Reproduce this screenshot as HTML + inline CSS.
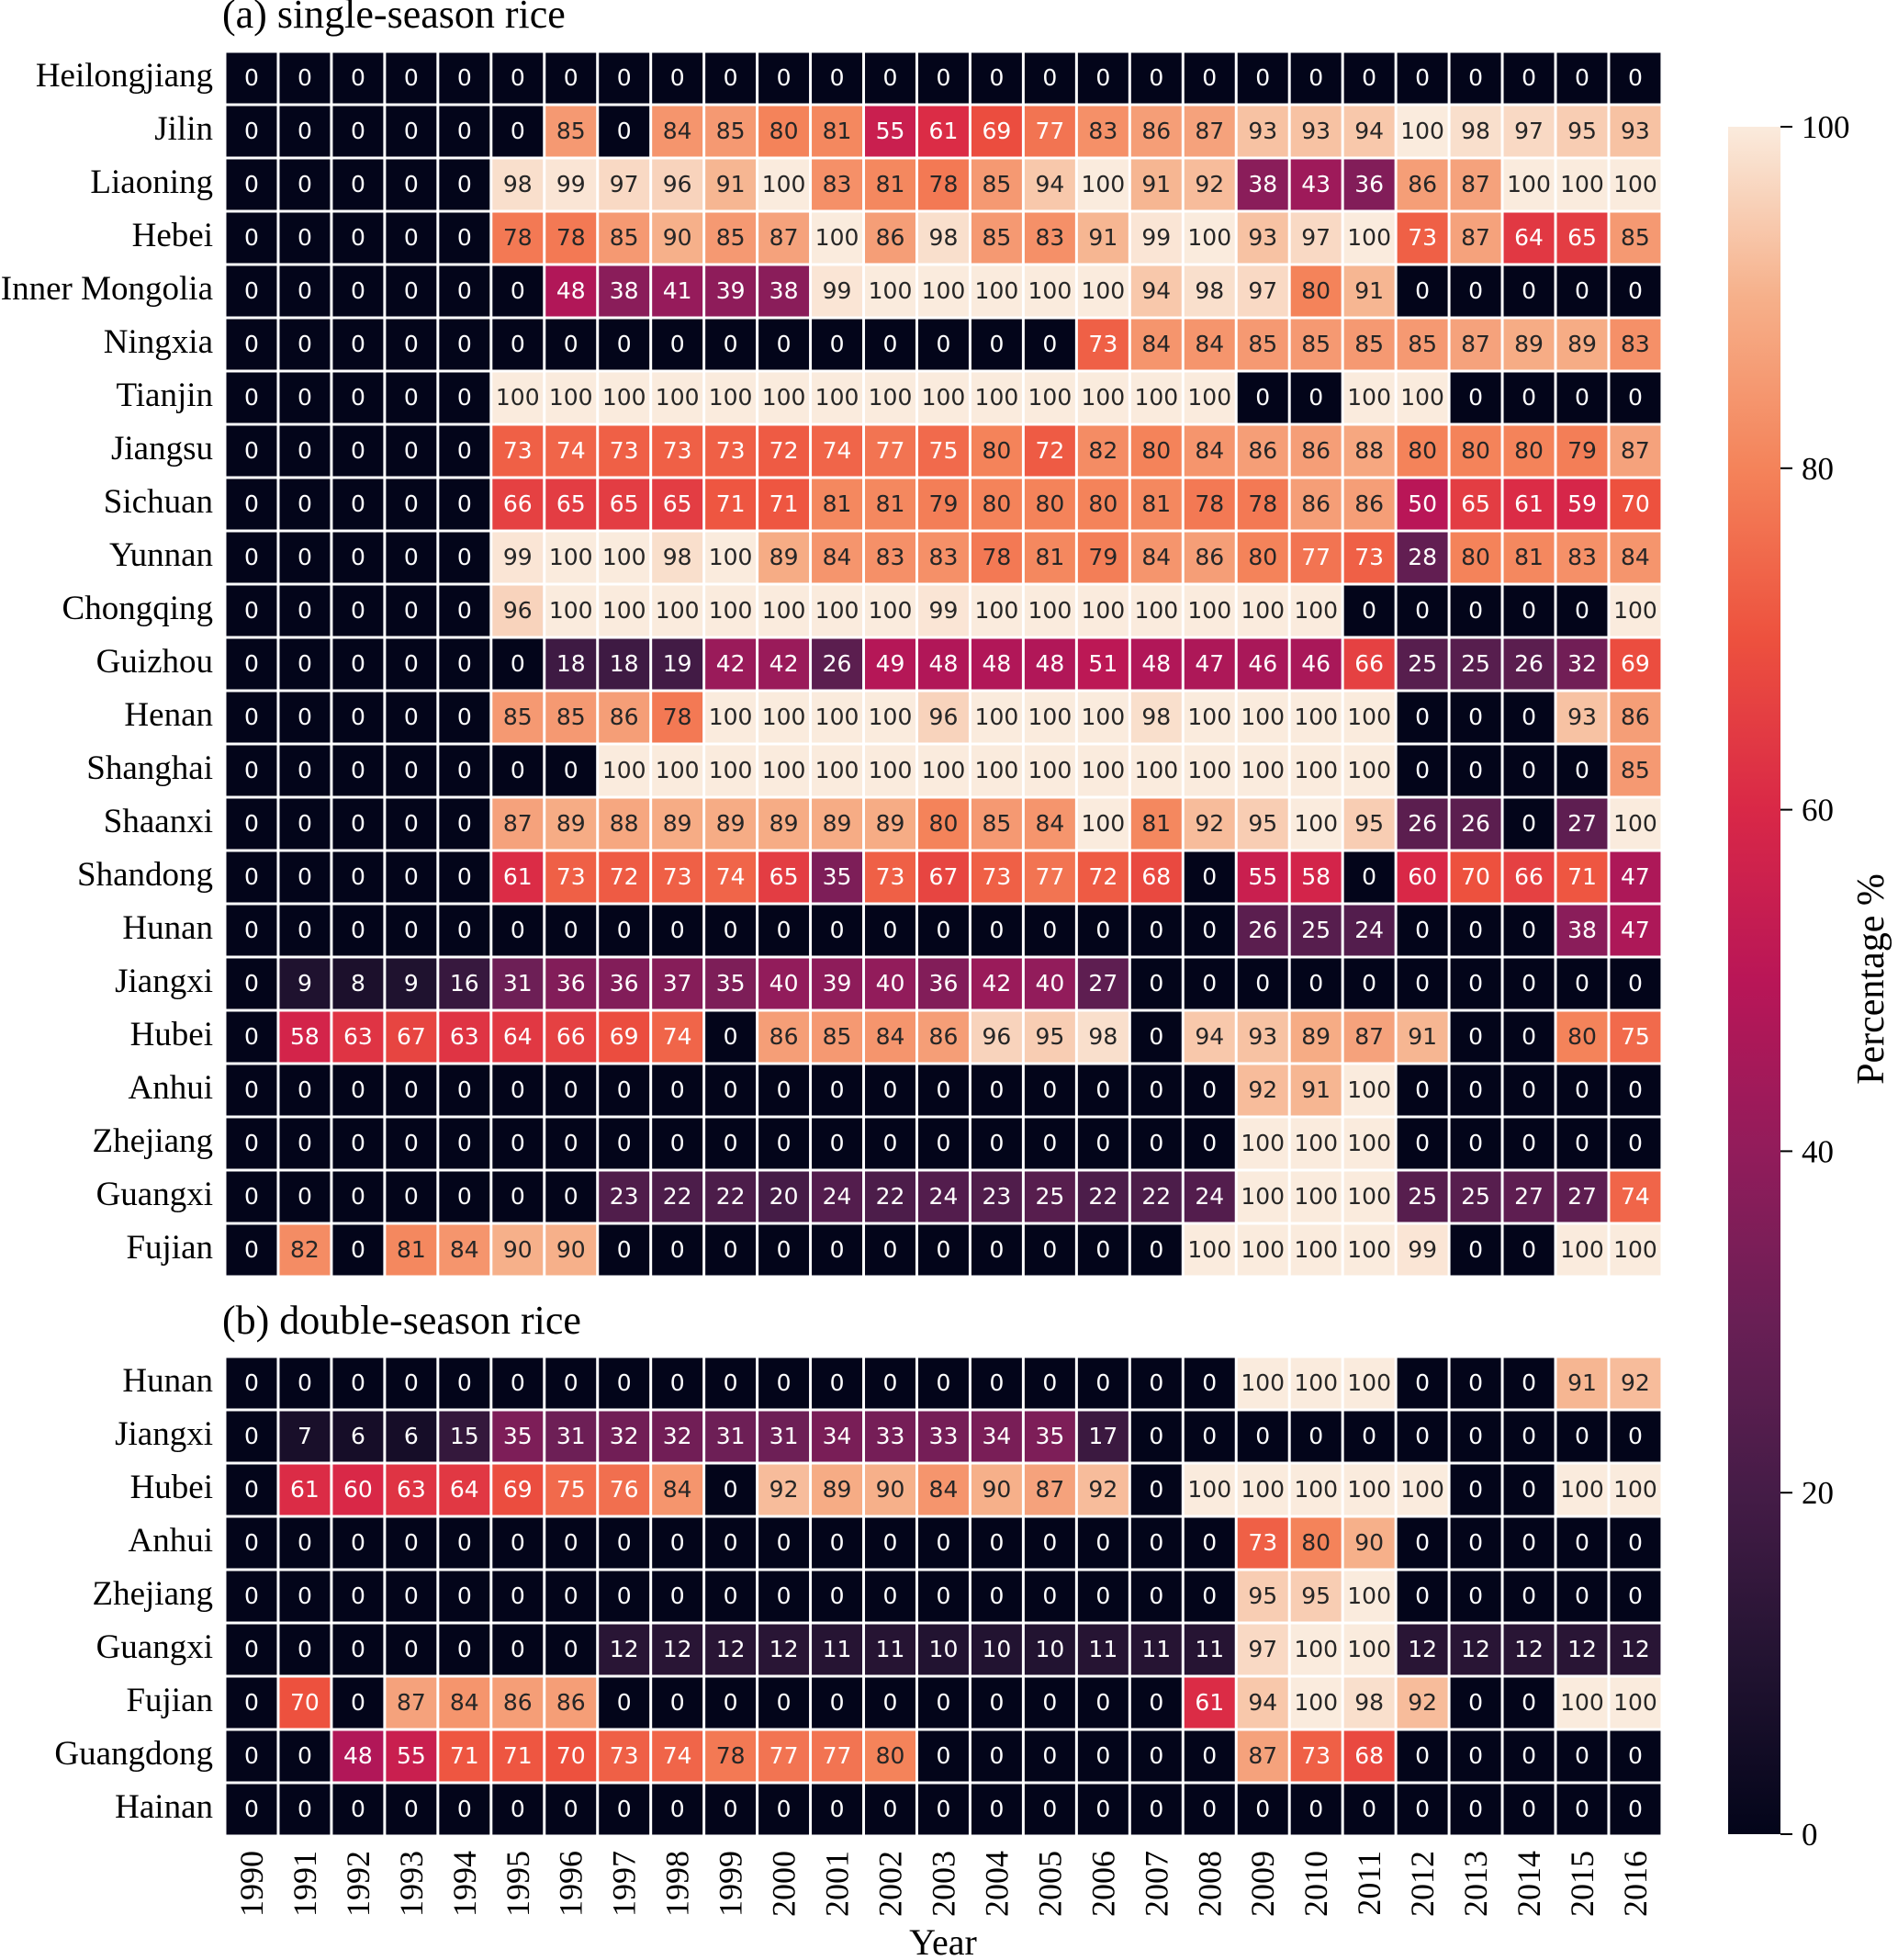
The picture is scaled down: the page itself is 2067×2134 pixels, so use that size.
<!DOCTYPE html>
<html><head><meta charset="utf-8">
<style>
html,body{margin:0;padding:0;background:#fff;}
svg{display:block;}
</style></head>
<body>
<svg id="chart" width="2067" height="2134" viewBox="0 0 2067 2134" xmlns="http://www.w3.org/2000/svg">
<defs>
<linearGradient id="cbgrad" x1="0" y1="1" x2="0" y2="0">
<stop offset="0" stop-color="#03051A"/><stop offset="0.1" stop-color="#221331"/><stop offset="0.2" stop-color="#451C47"/>
<stop offset="0.3" stop-color="#691F55"/><stop offset="0.4" stop-color="#921C5B"/><stop offset="0.5" stop-color="#B91657"/>
<stop offset="0.6" stop-color="#D92847"/><stop offset="0.7" stop-color="#ED513E"/><stop offset="0.8" stop-color="#F4835A"/>
<stop offset="0.9" stop-color="#F6B08A"/><stop offset="1" stop-color="#FAEBDD"/>
</linearGradient>
</defs>
<g id="panels"></g>
<text x="242" y="30" font-family="Liberation Serif, serif" font-size="44">(a) single-season rice</text>
<text x="242" y="1452" font-family="Liberation Serif, serif" font-size="44">(b) double-season rice</text>
<text x="1027" y="2128" text-anchor="middle" font-family="Liberation Serif, serif" font-size="40">Year</text>
<rect x="1882" y="138" width="57" height="1859" fill="url(#cbgrad)"/>
<g id="cbticks"></g>
<text transform="translate(2051,1066) rotate(-90)" text-anchor="middle" font-family="Liberation Serif, serif" font-size="42">Percentage %</text>
</svg>
<script>
const years = [1990,1991,1992,1993,1994,1995,1996,1997,1998,1999,2000,2001,2002,2003,2004,2005,2006,2007,2008,2009,2010,2011,2012,2013,2014,2015,2016];
const provincesA = ["Heilongjiang","Jilin","Liaoning","Hebei","Inner Mongolia","Ningxia","Tianjin","Jiangsu","Sichuan","Yunnan","Chongqing","Guizhou","Henan","Shanghai","Shaanxi","Shandong","Hunan","Jiangxi","Hubei","Anhui","Zhejiang","Guangxi","Fujian"];
const valuesA = [
[0,0,0,0,0,0,0,0,0,0,0,0,0,0,0,0,0,0,0,0,0,0,0,0,0,0,0],
[0,0,0,0,0,0,85,0,84,85,80,81,55,61,69,77,83,86,87,93,93,94,100,98,97,95,93],
[0,0,0,0,0,98,99,97,96,91,100,83,81,78,85,94,100,91,92,38,43,36,86,87,100,100,100],
[0,0,0,0,0,78,78,85,90,85,87,100,86,98,85,83,91,99,100,93,97,100,73,87,64,65,85],
[0,0,0,0,0,0,48,38,41,39,38,99,100,100,100,100,100,94,98,97,80,91,0,0,0,0,0],
[0,0,0,0,0,0,0,0,0,0,0,0,0,0,0,0,73,84,84,85,85,85,85,87,89,89,83],
[0,0,0,0,0,100,100,100,100,100,100,100,100,100,100,100,100,100,100,0,0,100,100,0,0,0,0],
[0,0,0,0,0,73,74,73,73,73,72,74,77,75,80,72,82,80,84,86,86,88,80,80,80,79,87],
[0,0,0,0,0,66,65,65,65,71,71,81,81,79,80,80,80,81,78,78,86,86,50,65,61,59,70],
[0,0,0,0,0,99,100,100,98,100,89,84,83,83,78,81,79,84,86,80,77,73,28,80,81,83,84],
[0,0,0,0,0,96,100,100,100,100,100,100,100,99,100,100,100,100,100,100,100,0,0,0,0,0,100],
[0,0,0,0,0,0,18,18,19,42,42,26,49,48,48,48,51,48,47,46,46,66,25,25,26,32,69],
[0,0,0,0,0,85,85,86,78,100,100,100,100,96,100,100,100,98,100,100,100,100,0,0,0,93,86],
[0,0,0,0,0,0,0,100,100,100,100,100,100,100,100,100,100,100,100,100,100,100,0,0,0,0,85],
[0,0,0,0,0,87,89,88,89,89,89,89,89,80,85,84,100,81,92,95,100,95,26,26,0,27,100],
[0,0,0,0,0,61,73,72,73,74,65,35,73,67,73,77,72,68,0,55,58,0,60,70,66,71,47],
[0,0,0,0,0,0,0,0,0,0,0,0,0,0,0,0,0,0,0,26,25,24,0,0,0,38,47],
[0,9,8,9,16,31,36,36,37,35,40,39,40,36,42,40,27,0,0,0,0,0,0,0,0,0,0],
[0,58,63,67,63,64,66,69,74,0,86,85,84,86,96,95,98,0,94,93,89,87,91,0,0,80,75],
[0,0,0,0,0,0,0,0,0,0,0,0,0,0,0,0,0,0,0,92,91,100,0,0,0,0,0],
[0,0,0,0,0,0,0,0,0,0,0,0,0,0,0,0,0,0,0,100,100,100,0,0,0,0,0],
[0,0,0,0,0,0,0,23,22,22,20,24,22,24,23,25,22,22,24,100,100,100,25,25,27,27,74],
[0,82,0,81,84,90,90,0,0,0,0,0,0,0,0,0,0,0,100,100,100,100,99,0,0,100,100]
];
const provincesB = ["Hunan","Jiangxi","Hubei","Anhui","Zhejiang","Guangxi","Fujian","Guangdong","Hainan"];
const valuesB = [
[0,0,0,0,0,0,0,0,0,0,0,0,0,0,0,0,0,0,0,100,100,100,0,0,0,91,92],
[0,7,6,6,15,35,31,32,32,31,31,34,33,33,34,35,17,0,0,0,0,0,0,0,0,0,0],
[0,61,60,63,64,69,75,76,84,0,92,89,90,84,90,87,92,0,100,100,100,100,100,0,0,100,100],
[0,0,0,0,0,0,0,0,0,0,0,0,0,0,0,0,0,0,0,73,80,90,0,0,0,0,0],
[0,0,0,0,0,0,0,0,0,0,0,0,0,0,0,0,0,0,0,95,95,100,0,0,0,0,0],
[0,0,0,0,0,0,0,12,12,12,12,11,11,10,10,10,11,11,11,97,100,100,12,12,12,12,12],
[0,70,0,87,84,86,86,0,0,0,0,0,0,0,0,0,0,0,61,94,100,98,92,0,0,100,100],
[0,0,48,55,71,71,70,73,74,78,77,77,80,0,0,0,0,0,0,87,73,68,0,0,0,0,0],
[0,0,0,0,0,0,0,0,0,0,0,0,0,0,0,0,0,0,0,0,0,0,0,0,0,0,0]
];
const cbTicks = [0,20,40,60,80,100];

const NS="http://www.w3.org/2000/svg";
const X0=245, CW=57.96, CH=58.0;
const topA=56, topB=1477;
const cbTop=138, cbBot=1997;
const stops=[[0,[3,5,26]],[0.1,[34,19,49]],[0.2,[69,28,71]],[0.3,[105,31,85]],[0.4,[146,28,91]],[0.5,[185,22,87]],[0.6,[217,40,71]],[0.7,[237,81,62]],[0.8,[244,131,90]],[0.9,[246,176,138]],[1,[250,235,221]]];
function cmap(v){
  let t=Math.max(0,Math.min(1,v/100));
  for(let i=0;i<stops.length-1;i++){
    const a=stops[i],b=stops[i+1];
    if(t<=b[0]){const f=(t-a[0])/(b[0]-a[0]);
      const c=a[1].map((x,k)=>Math.round(x+(b[1][k]-x)*f));
      return `rgb(${c[0]},${c[1]},${c[2]})`;}
  }
  return "rgb(250,235,221)";
}
function xPos(j){return X0+j*CW;}
function yPos(top,i){return top+i*CH;}
function mk(tag,attrs,parent){const e=document.createElementNS(NS,tag);for(const k in attrs)e.setAttribute(k,attrs[k]);parent.appendChild(e);return e;}
const panels=document.getElementById('panels');
function drawPanel(names,vals,top,key){
  const g=mk('g',{},panels);
  
  
  names.forEach((nm,i)=>{
    const lab=mk('text',{x:232,y:yPos(top,i)+CH/2+9,'text-anchor':'end','font-family':'Liberation Serif, serif','font-size':37},g);
    
    
    lab.textContent=nm;
    vals[i].forEach((v,j)=>{
      const r=mk('rect',{x:xPos(j)+1.5,y:yPos(top,i)+1.5,width:CW-3,height:CH-3,fill:cmap(v)},g);
      
      
      const t=mk('text',{x:xPos(j)+CW/2,y:yPos(top,i)+CH/2+8,'text-anchor':'middle','font-family':'DejaVu Sans, sans-serif','font-size':25,fill:(v>77.5?'#262626':'#ffffff')},g);
      
      
      t.textContent=v;
    });
  });
}
drawPanel(provincesA,valuesA,topA,'single-season');
drawPanel(provincesB,valuesB,topB,'double-season');
years.forEach((yr,j)=>{
  const cx=xPos(j)+CW/2+12;
  const t=mk('text',{transform:`translate(${cx},2015) rotate(-90)`,'text-anchor':'end','font-family':'Liberation Serif, serif','font-size':36},panels);
  
  
  t.textContent=yr;
});
const cbg=document.getElementById('cbticks');
cbTicks.forEach(v=>{
  const y=cbBot-(v/100)*(cbBot-cbTop);
  const l=mk('line',{x1:1939,x2:1952,y1:y,y2:y,stroke:'#000','stroke-width':2},cbg);
  
  
  const t=mk('text',{x:1962,y:y+12,'font-family':'Liberation Serif, serif','font-size':35},cbg);
  
  
  t.textContent=v;
});
</script>
</body></html>
